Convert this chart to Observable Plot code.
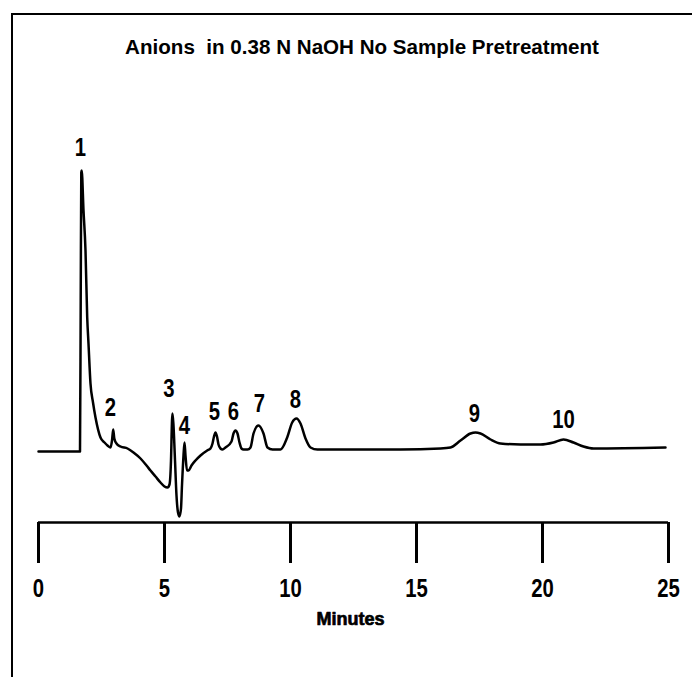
<!DOCTYPE html>
<html><head><meta charset="utf-8">
<script src="https://cdn.jsdelivr.net/npm/d3@7"></script>
<script src="https://cdn.jsdelivr.net/npm/@observablehq/plot@0.6"></script>
<style>
html,body{margin:0;padding:0;background:#fff;}
#wrap{position:relative;width:692px;height:677px;overflow:hidden;background:#fff;}
#border{position:absolute;left:11px;top:13px;right:-10px;bottom:-10px;border-top:2px solid #000;border-left:2px solid #000;}
#title{position:absolute;left:0;width:724px;top:35px;line-height:23px;text-align:center;font:bold 20.6px "Liberation Sans",Arial,sans-serif;white-space:pre;color:#000;}
#chart{position:absolute;left:0;top:0;}
</style></head>
<body><div id="wrap"><div id="border"></div><div id="title"></div><div id="chart"></div></div>
<script>
const titleText = "Anions  in 0.38 N NaOH No Sample Pretreatment";
const axisLabel = "Minutes";
const tickValues = [0, 5, 10, 15, 20, 25];

// retention time (minutes)
const times = [
  0, 1.647, 1.675, 1.698, 1.714, 1.786, 1.865, 1.933, 1.984, 2.063, 2.163, 2.262, 2.460, 2.619, 2.738, 2.857,
  2.917, 2.964, 3.008, 3.095, 3.254, 3.532, 3.770, 4.048, 4.286, 4.444, 4.643, 4.841, 5.000, 5.119, 5.198,
  5.258, 5.298, 5.317, 5.357, 5.417, 5.476, 5.536, 5.595, 5.655, 5.694, 5.754, 5.794, 5.833, 5.893, 5.952, 6.071, 6.230, 6.429, 6.694, 6.825,
  6.905, 6.964, 7.024, 7.083, 7.143, 7.222, 7.302, 7.421,
  7.659, 7.738, 7.817, 7.897, 7.976, 8.056, 8.135, 8.294, 8.413,
  8.532, 8.730, 8.929, 9.087, 9.286, 9.603,
  9.869, 10.067, 10.238, 10.397, 10.595, 10.794, 11.071,
  12.381, 14.365, 15.952, 16.349,
  16.746, 17.143, 17.341, 17.540, 17.937, 18.333, 19.127, 19.921,
  20.437, 20.833, 21.230, 21.627, 22.024, 24.881
];
// detector response (arbitrary units)
const signal = [
  0, 0, 151, 279, 281, 241, 201, 134, 108, 68, 49, 34, 14, 9, 6, 4,
  11, 22, 13, 8, 5, 3, -1, -7, -14, -19, -25, -31, -35, -36, -33,
  -9, 31, 38, 26, -9, -44, -61, -65, -57, -34, -4, 9, -4, -19, -19, -14, -9, -4, 1, 3,
  8, 15, 19, 15, 7, 3, 2, 4,
  10, 18, 21, 18, 9, 3, 2, 2, 4,
  18, 26, 18, 4, 2, 2,
  14, 29, 33, 28, 13, 4, 2,
  2, 2, 3, 4,
  11, 18, 19, 18, 12, 8, 7, 7,
  9, 12, 9, 5, 3, 4
];

const peakIds = ["1", "2", "3", "4", "5", "6", "7", "8", "9", "10"];
const peakLabelTimes = [1.667, 2.857, 5.179, 5.794, 6.984, 7.738, 8.770, 10.198, 17.301, 20.833];
const peakLabelSignal = [304, 44, 63, 26, 40, 40, 48, 52, 38, 32];

document.getElementById("title").textContent = titleText;

const trace = times.map((t, i) => ({t, s: signal[i]}));
const labels = peakIds.map((id, i) => ({id, t: peakLabelTimes[i], s: peakLabelSignal[i]}));
const digitFont = '"Liberation Sans Narrow","Arial Narrow","Liberation Sans",Arial,sans-serif';

const chart = Plot.plot({
  width: 692,
  height: 677,
  marginLeft: 38,
  marginRight: 24,
  marginTop: 100,
  marginBottom: 155,
  x: {domain: [0, 25]},
  y: {domain: [-71, 351], axis: null},
  style: {background: "transparent", color: "#000", overflow: "visible"},
  marks: [
    Plot.ruleY([-71], {stroke: "#000", strokeWidth: 2.5}),
    Plot.axisX(tickValues, {
      anchor: "bottom", tickSize: 41, tickPadding: 15, strokeWidth: 3,
      fontSize: 26, fontWeight: "bold", fontFamily: digitFont, label: null
    }),
    Plot.line(trace, {x: "t", y: "s", stroke: "#000", strokeWidth: 2.5, curve: "monotone-x", strokeLinejoin: "round"}),
    Plot.text(labels, {x: "t", y: "s", text: "id", fontSize: 26, fontWeight: "bold", fontFamily: digitFont, fill: "#000"}),
    Plot.text([axisLabel], {frameAnchor: "bottom", dx: -3, dy: 102, text: d => d, fontSize: 18, fontWeight: 900,
      fontFamily: '"Liberation Sans",Arial,sans-serif', fill: "#000", stroke: "#000", strokeWidth: 0.7})
  ]
});

// condensed look for the bold digits (horizontal squeeze about each text's anchor)
chart.querySelectorAll('g[font-family*="Narrow"] text').forEach(el => {
  const tr = el.getAttribute("transform");
  if (tr) el.setAttribute("transform", tr + " scale(0.78,1)");
});

document.getElementById("chart").appendChild(chart);
</script>
</body></html>
